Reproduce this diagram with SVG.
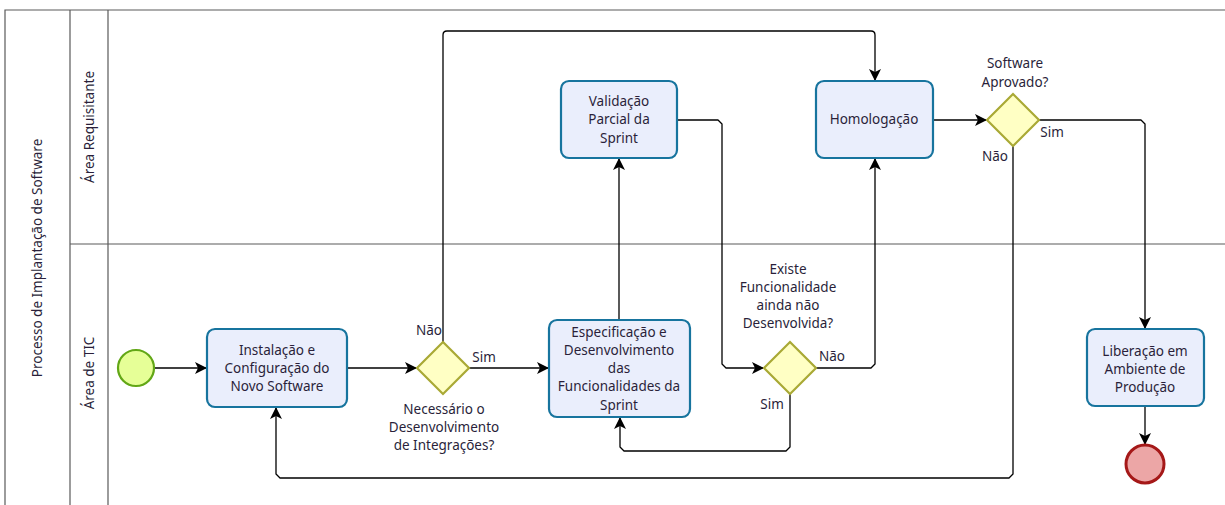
<svg xmlns="http://www.w3.org/2000/svg" width="1225" height="505" viewBox="0 0 1225 505">
<style>
text{font-family:"Noto Sans","DejaVu Sans",sans-serif;font-size:13.5px;fill:#2a1f3a;text-anchor:middle}
.lane{stroke:#5a5a5a;stroke-width:1.2;fill:none}
.task{fill:#eaeefc;stroke:#17749e;stroke-width:2.2}
.gw{fill:#ffffc4;stroke:#a9a935;stroke-width:2.2}
.flow{fill:none;stroke:#000;stroke-width:1.3;stroke-linejoin:round}
</style>
<defs>
<marker id="arr" viewBox="0 0 12 12" refX="11" refY="6" markerWidth="12" markerHeight="12" markerUnits="userSpaceOnUse" orient="auto">
<path d="M0,0 L12,6 L0,12 L3,6 Z" fill="#000"/>
</marker>
<clipPath id="c2"><rect x="550" y="321" width="139" height="95" rx="8"/></clipPath>
</defs>
<rect width="1225" height="505" fill="#fff"/>
<g id="pool">
<path class="lane" d="M5,505 V10 H1225 M70,10 V505 M108,10 V505 M70,244 H1225"/>
<text transform="translate(42,258) rotate(-90)">Processo de Implantação de Software</text>
<text transform="translate(94,127) rotate(-90)">Área Requisitante</text>
<text transform="translate(94,373) rotate(-90)">Área de TIC</text>
</g>
<g id="connectors">
<path class="flow" d="M155,368 H206" marker-end="url(#arr)"/>
<path class="flow" d="M347,368 H416" marker-end="url(#arr)"/>
<path class="flow" d="M469,368 H548" marker-end="url(#arr)"/>
<path class="flow" d="M443,342 V35 Q443,31 447,31 H871 Q875,31 875,35 V80" marker-end="url(#arr)"/>
<path class="flow" d="M619,320 V159" marker-end="url(#arr)"/>
<path class="flow" d="M677,120 H718 L722,124 V364 L726,368 H763" marker-end="url(#arr)"/>
<path class="flow" d="M816,368 H871 L875,364 V159" marker-end="url(#arr)"/>
<path class="flow" d="M790,394 V447 L786,451 H624 L620,447 V418" marker-end="url(#arr)"/>
<path class="flow" d="M933,120 H986" marker-end="url(#arr)"/>
<path class="flow" d="M1039,120 H1141 L1145,124 V328" marker-end="url(#arr)"/>
<path class="flow" d="M1145,406 V444" marker-end="url(#arr)"/>
<path class="flow" d="M1013,146 V474 L1009,478 H280 L276,474 V408" marker-end="url(#arr)"/>
<text x="429" y="335">Não</text>
<text x="484" y="362">Sim</text>
<text x="832" y="361">Não</text>
<text x="772" y="409">Sim</text>
<text x="1052" y="137">Sim</text>
<text x="995" y="161">Não</text>
</g>
<g id="start"><circle cx="136" cy="368" r="18" fill="#e6ff97" stroke="#62a716" stroke-width="2.2"/></g>
<g id="task-instalacao">
<rect class="task" x="207" y="329" width="140" height="78" rx="8"/>
<text x="277" y="355">Instalação e</text>
<text x="277" y="373">Configuração do</text>
<text x="277" y="391">Novo Software</text>
</g>
<g id="gw-integracoes">
<path class="gw" d="M443,342 L469,368 L443,394 L417,368 Z"/>
<text x="444" y="414">Necessário o</text>
<text x="444" y="432">Desenvolvimento</text>
<text x="444" y="450">de Integrações?</text>
</g>
<g id="task-especificacao">
<rect class="task" x="549" y="320" width="141" height="97" rx="8"/>
<g clip-path="url(#c2)">
<text x="619" y="337">Especificação e</text>
<text x="619" y="355">Desenvolvimento</text>
<text x="619" y="373">das</text>
<text x="619" y="391">Funcionalidades da</text>
<text x="619" y="410">Sprint</text>
</g>
</g>
<g id="task-validacao">
<rect class="task" x="561" y="81" width="116" height="77" rx="8"/>
<text x="619" y="106">Validação</text>
<text x="619" y="124">Parcial da</text>
<text x="619" y="143">Sprint</text>
</g>
<g id="gw-existe">
<path class="gw" d="M790,342 L816,368 L790,394 L764,368 Z"/>
<text x="788" y="274">Existe</text>
<text x="788" y="292">Funcionalidade</text>
<text x="788" y="310">ainda não</text>
<text x="788" y="328">Desenvolvida?</text>
</g>
<g id="task-homologacao">
<rect class="task" x="816" y="81" width="117" height="77" rx="8"/>
<text x="874" y="124">Homologação</text>
</g>
<g id="gw-aprovado">
<path class="gw" d="M1013,94 L1039,120 L1013,146 L987,120 Z"/>
<text x="1015" y="68">Software</text>
<text x="1015" y="87">Aprovado?</text>
</g>
<g id="task-liberacao">
<rect class="task" x="1087" y="329" width="117" height="77" rx="8"/>
<text x="1145" y="356">Liberação em</text>
<text x="1145" y="374">Ambiente de</text>
<text x="1145" y="392">Produção</text>
</g>
<g id="end"><circle cx="1145" cy="464" r="19" fill="#eca6a6" stroke="#a51818" stroke-width="3"/></g>
</svg>
